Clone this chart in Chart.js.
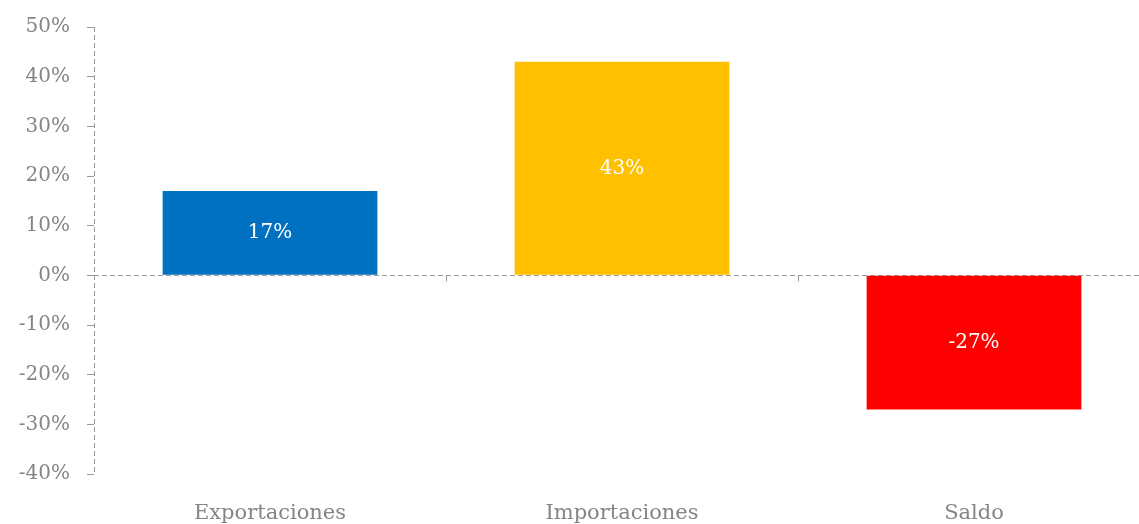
<!DOCTYPE html>
<html lang="es">
<head>
    <meta charset="UTF-8">
    <title>Variación</title>
    <style>
        html, body { margin: 0; padding: 0; background: #fff; overflow: hidden; }
        .chart-container { position: absolute; left: 0; top: 0; width: 1150px; height: 524px; }
    </style>
</head>
<body>
    <div class="chart-container">
        <canvas id="chart"></canvas>
    </div>

    <script src="https://cdn.jsdelivr.net/npm/chart.js@4.4.1/dist/chart.umd.js"></script>
    <script>
        // data
        const categories = ['Exportaciones', 'Importaciones', 'Saldo'];
        const values = [17, 43, -27];
        const barColors = ['#0070C0', '#FFC000', '#FF0000'];
        const yMin = -40;
        const yMax = 50;
        const yStep = 10;

        const FONT = "'DejaVu Serif', 'Liberation Serif', serif";
        const GREY = '#858585';
        const LINE = '#999';
        const DASH = [5, 3];

        // white value labels in the middle of each bar
        const barLabels = {
            id: 'barLabels',
            afterDatasetsDraw(chart) {
                const ctx = chart.ctx;
                const meta = chart.getDatasetMeta(0);
                ctx.save();
                ctx.fillStyle = '#fff';
                ctx.font = '20px ' + FONT;
                ctx.textAlign = 'center';
                ctx.textBaseline = 'middle';
                meta.data.forEach((bar, i) => {
                    const mid = (bar.y + bar.base) / 2;
                    ctx.fillText(values[i] + '%', bar.x, mid);
                });
                ctx.restore();
            }
        };

        // dashed y axis line + little ticks between categories on the zero line
        const axisExtras = {
            id: 'axisExtras',
            afterDraw(chart) {
                const x = chart.scales.x, y = chart.scales.y;
                const area = chart.chartArea;
                const y0 = y.getPixelForValue(0);
                const ctx = chart.ctx;
                ctx.save();
                ctx.strokeStyle = LINE;
                ctx.lineWidth = 1;
                ctx.setLineDash(DASH);
                ctx.beginPath();
                ctx.moveTo(Math.round(area.left) + 0.5, area.top);
                ctx.lineTo(Math.round(area.left) + 0.5, area.bottom);
                ctx.stroke();
                ctx.setLineDash([]);
                for (let i = 0; i < categories.length - 1; i++) {
                    const px = Math.round((x.getPixelForValue(i) + x.getPixelForValue(i + 1)) / 2) + 0.5;
                    ctx.beginPath();
                    ctx.moveTo(px, y0);
                    ctx.lineTo(px, y0 + 6);
                    ctx.stroke();
                }
                ctx.restore();
            }
        };

        new Chart(document.getElementById('chart'), {
            type: 'bar',
            data: {
                labels: categories,
                datasets: [{
                    data: values,
                    backgroundColor: barColors,
                    borderWidth: 0,
                    barPercentage: 1,
                    categoryPercentage: 0.61
                }]
            },
            options: {
                responsive: true,
                maintainAspectRatio: false,
                animation: false,
                layout: { padding: { top: 7, right: 0, left: 0, bottom: 0 } },
                plugins: {
                    legend: { display: false },
                    tooltip: { enabled: false }
                },
                scales: {
                    x: {
                        grid: { display: false, drawTicks: false },
                        border: { display: false },
                        ticks: {
                            color: GREY,
                            font: { family: FONT, size: 21 },
                            padding: 27
                        },
                        afterFit(scale) { scale.height = 50; }
                    },
                    y: {
                        min: yMin,
                        max: yMax,
                        ticks: {
                            stepSize: yStep,
                            color: GREY,
                            font: { family: FONT, size: 20, lineHeight: 1 },
                            padding: 17,
                            callback: v => v + '%'
                        },
                        grid: {
                            color: c => (c.tick && c.tick.value === 0) ? LINE : 'rgba(0,0,0,0)',
                            tickColor: LINE,
                            tickLength: 7
                        },
                        border: { display: false, dash: DASH },
                        afterFit(scale) { scale.width = 94; }
                    }
                }
            },
            plugins: [barLabels, axisExtras]
        });
    </script>
</body>
</html>
